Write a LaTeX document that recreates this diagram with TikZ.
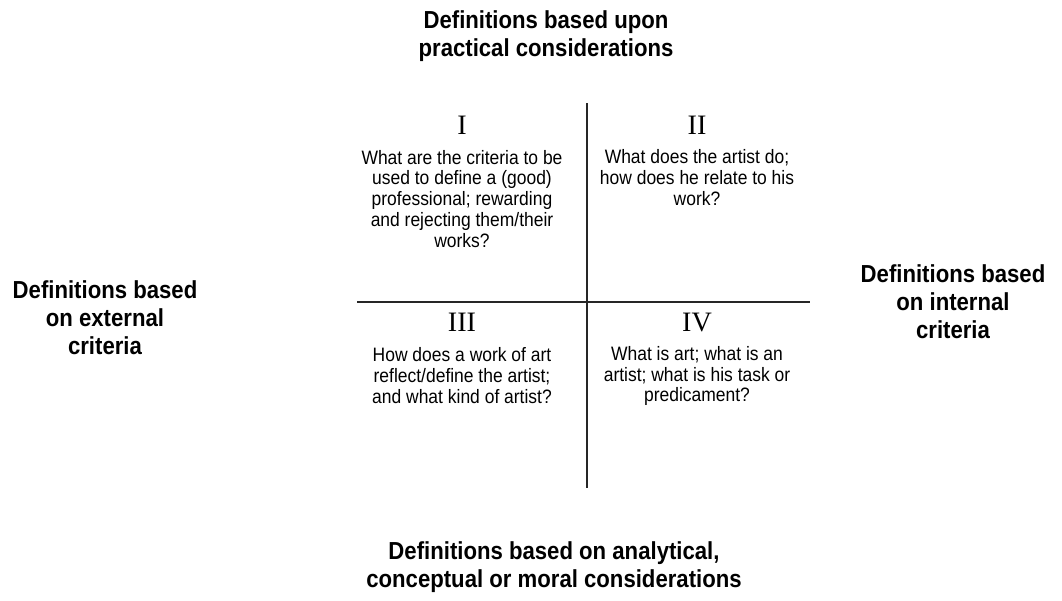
\documentclass[tikz,border=0pt]{standalone}
\usepackage{fontspec}
\setmainfont{Liberation Sans}[FakeStretch=0.9]
\newfontfamily\numfont{Liberation Serif}
\usepackage{tikz}
\usetikzlibrary{positioning}
\tikzstyle{heading} = [align=center,font=\bfseries\fontsize{17.5}{19.8}\selectfont]
\tikzstyle{question} = [align=center,font=\fontsize{13.8}{14.9}\selectfont,inner sep=0pt]
\tikzstyle{numeral} = [font=\numfont\fontsize{20}{21}\selectfont,inner sep=0pt]
\tikzstyle{axis} = [line width=1.5pt,black!85]

\begin{document}
\begin{tikzpicture}[x=0.025cm,y=-0.025cm]
		\useasboundingbox (0,0) rectangle (1062,600);
		% Axes:
		\coordinate (vtop) at (587,103);
		\coordinate (vbot) at (587,488);
		\coordinate (hleft) at (357,302);
		\coordinate (hright) at (810,302);
		\draw [axis] (vtop) -- (vbot);
		\draw [axis,line width=1.9pt] (hleft) -- (hright);
		
		% Headings round the cross:
		\node [heading] (top) at (546,36) {Definitions based upon\\practical considerations};
		\node [heading] (bottom) at (554,567) {Definitions based on analytical,\\conceptual or moral considerations};
		\node [heading] (left) at (105,318) {Definitions based\\on external\\criteria};
		\node [heading] (right) at (953,302) {Definitions based\\on internal\\criteria};
		
		% Quadrants:
		\node [numeral] (n1) at (462,125) {I};
		\node [numeral] (n2) at (697,125) {II};
		\node [numeral] (n3) at (462,322) {III};
		\node [numeral] (n4) at (697,322) {IV};
		\node [question] (q1) at (462,199) {What are the criteria to be\\used to define a (good)\\professional; rewarding\\and rejecting them/their\\works?};
		\node [question] (q2) at (697,178) {What does the artist do;\\how does he relate to his\\work?};
		\node [question] (q3) at (462,376) {How does a work of art\\reflect/define the artist;\\and what kind of artist?};
		\node [question] (q4) at (697,376) {What is art; what is an\\artist; what is his task or\\predicament?};
\end{tikzpicture}
\end{document}
